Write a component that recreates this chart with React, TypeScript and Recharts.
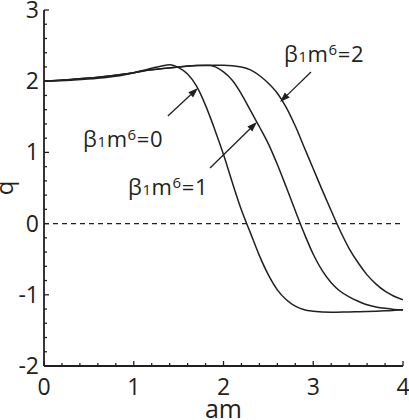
import React from "react";
import { LineChart, Line, XAxis, YAxis, ReferenceLine, ReferenceDot } from "recharts";

const INK = "#231f20";
const FONT = "'Open Sans', sans-serif";

const xTicks = [0, 0.2, 0.4, 0.6, 0.8, 1, 1.2, 1.4, 1.6, 1.8, 2, 2.2, 2.4, 2.6, 2.8, 3, 3.2, 3.4, 3.6, 3.8, 4];
const yTicks = [-2, -1.8, -1.6, -1.4, -1.2, -1, -0.8, -0.6, -0.4, -0.2, 0, 0.2, 0.4, 0.6, 0.8, 1, 1.2, 1.4, 1.6, 1.8, 2, 2.2, 2.4, 2.6, 2.8, 3];

// beta1 m^6 = 0
const am0 = [0, 0.3, 0.6, 0.9, 1.1, 1.3, 1.4, 1.5, 1.6, 1.7, 1.8, 1.9, 2.0, 2.1, 2.2, 2.3, 2.4, 2.5, 2.6, 2.7, 2.8, 2.9, 3.0, 3.2, 3.4, 3.6, 3.8, 4.0];
const q0 = [2.0, 2.015, 2.04, 2.09, 2.15, 2.21, 2.23, 2.19, 2.1, 1.93, 1.66, 1.33, 0.97, 0.57, 0.19, -0.13, -0.45, -0.72, -0.93, -1.07, -1.16, -1.21, -1.23, -1.245, -1.24, -1.235, -1.225, -1.21];

// beta1 m^6 = 1
const am1 = [0, 0.3, 0.6, 0.9, 1.2, 1.5, 1.7, 1.85, 2.0, 2.1, 2.2, 2.3, 2.4, 2.5, 2.6, 2.7, 2.8, 2.9, 3.0, 3.1, 3.2, 3.3, 3.4, 3.5, 3.6, 3.7, 3.8, 3.9, 4.0];
const q1 = [2.0, 2.025, 2.055, 2.1, 2.16, 2.2, 2.22, 2.22, 2.13, 2.01, 1.82, 1.59, 1.36, 1.12, 0.83, 0.51, 0.18, -0.14, -0.43, -0.66, -0.83, -0.95, -1.03, -1.09, -1.14, -1.17, -1.19, -1.205, -1.215];

// beta1 m^6 = 2
const am2 = [0, 0.3, 0.6, 0.9, 1.2, 1.5, 1.8, 2.0, 2.2, 2.3, 2.4, 2.5, 2.6, 2.7, 2.8, 2.9, 3.0, 3.1, 3.2, 3.3, 3.4, 3.5, 3.6, 3.7, 3.8, 3.9, 4.0];
const q2 = [2.0, 2.025, 2.055, 2.1, 2.16, 2.2, 2.225, 2.225, 2.2, 2.16, 2.08, 1.97, 1.83, 1.63, 1.37, 1.07, 0.77, 0.47, 0.18, -0.1, -0.35, -0.55, -0.72, -0.85, -0.95, -1.02, -1.07];

const zip = (xs: number[], ys: number[]) => xs.map((x, i) => ({ x, q: ys[i] }));

// annotation labels: value, anchor (x, q)
const labels = [
  { v: "0", x: 0.435, q: 1.074 },
  { v: "1", x: 0.936, q: 0.4 },
  { v: "2", x: 2.674, q: 2.27 },
];
// arrows: tail -> tip
const arrows = [
  [{ x: 1.38, y: 1.51 }, { x: 1.716, y: 1.904 }],
  [{ x: 1.85, y: 0.78 }, { x: 2.373, y: 1.427 }],
  [{ x: 2.975, y: 2.129 }, { x: 2.63, y: 1.707 }],
];

const isMajor = (v: number) => Math.abs(v - Math.round(v)) < 1e-6;

function BottomTick(props: any) {
  const { x, y, payload } = props;
  const major = isMajor(payload.value);
  return (
    <g>
      <line x1={x} x2={x} y1={y} y2={y - (major ? 5 : 3)} stroke={INK} strokeWidth={1.3} />
      {major && (
        <text x={x} y={y + 29} textAnchor="middle" fontSize={23} fontFamily={FONT} fill={INK}>
          {Math.round(payload.value)}
        </text>
      )}
    </g>
  );
}

function TopTick(props: any) {
  const { x, y, payload } = props;
  const major = isMajor(payload.value);
  return <line x1={x} x2={x} y1={y} y2={y + (major ? 5 : 3)} stroke={INK} strokeWidth={1.3} />;
}

function LeftTick(props: any) {
  const { x, y, payload } = props;
  const major = isMajor(payload.value);
  return (
    <g>
      <line x1={x} x2={x + (major ? 5 : 3)} y1={y} y2={y} stroke={INK} strokeWidth={1.3} />
      {major && (
        <text x={x - 5} y={y + 8} textAnchor="end" fontSize={23} fontFamily={FONT} fill={INK}>
          {Math.round(payload.value)}
        </text>
      )}
    </g>
  );
}

function RightTick(props: any) {
  const { x, y, payload } = props;
  const major = isMajor(payload.value);
  return <line x1={x} x2={x - (major ? 5 : 3)} y1={y} y2={y} stroke={INK} strokeWidth={1.3} />;
}

function Arrow(props: any) {
  const { x1, y1, x2, y2 } = props;
  const dx = x2 - x1;
  const dy = y2 - y1;
  const len = Math.sqrt(dx * dx + dy * dy);
  const ux = dx / len;
  const uy = dy / len;
  const head = 10;
  const half = 3.5;
  const bx = x2 - ux * head;
  const by = y2 - uy * head;
  const pts = `${x2},${y2} ${bx - uy * half},${by + ux * half} ${bx + uy * half},${by - ux * half}`;
  return (
    <g>
      <line x1={x1} y1={y1} x2={bx} y2={by} stroke={INK} strokeWidth={1.3} />
      <polygon points={pts} fill={INK} />
    </g>
  );
}

function BetaLabel(v: string) {
  return (props: any) => {
    const { cx, cy } = props;
    return (
      <text x={cx} y={cy} fontSize={22} fontFamily={FONT} fill={INK} letterSpacing={0.6}>
        <tspan>β</tspan>
        <tspan fontSize={15}>1</tspan>
        <tspan>m</tspan>
        <tspan fontSize={15} dy={-7}>6</tspan>
        <tspan dy={7}>={v}</tspan>
      </text>
    );
  };
}

const QLabel = (props: any) => {
  const { viewBox } = props;
  const px = viewBox.x + 12.5;
  const py = viewBox.y + viewBox.height / 2;
  return (
    <text x={px} y={py} transform={`rotate(-90 ${px} ${py})`} textAnchor="middle" fontSize={24} fontFamily={FONT} fill={INK}>
      q
    </text>
  );
};

const AmLabel = (props: any) => {
  const { viewBox } = props;
  return (
    <text x={viewBox.x + viewBox.width / 2} y={viewBox.y + 52} textAnchor="middle" fontSize={25} fontFamily={FONT} fill={INK}>
      am
    </text>
  );
};

export default function App() {
  const axisLine = { stroke: INK, strokeWidth: 1.8 };
  return (
    <div style={{ position: "absolute", left: 0, top: 0, width: 409, height: 420, background: "#fff" }}>
      <LineChart width={409} height={420} margin={{ top: 10, right: 6, bottom: 0, left: 0 }}>
        <XAxis
          xAxisId="b"
          dataKey="x"
          type="number"
          domain={[0, 4]}
          ticks={xTicks}
          interval={0}
          height={54}
          tickLine={false}
          tickSize={0}
          tickMargin={0}
          axisLine={axisLine}
          tick={<BottomTick />}
          label={AmLabel}
          allowDataOverflow
        />
        <XAxis
          xAxisId="t"
          orientation="top"
          type="number"
          domain={[0, 4]}
          ticks={xTicks}
          interval={0}
          height={0}
          tickLine={false}
          tickSize={0}
          tickMargin={0}
          axisLine={axisLine}
          tick={<TopTick />}
          allowDataOverflow
        />
        <YAxis
          yAxisId="l"
          type="number"
          domain={[-2, 3]}
          ticks={yTicks}
          interval={0}
          width={44}
          tickLine={false}
          tickSize={0}
          tickMargin={0}
          axisLine={axisLine}
          tick={<LeftTick />}
          label={QLabel}
          allowDataOverflow
        />
        <YAxis
          yAxisId="r"
          orientation="right"
          type="number"
          domain={[-2, 3]}
          ticks={yTicks}
          interval={0}
          width={0}
          tickLine={false}
          tickSize={0}
          tickMargin={0}
          axisLine={axisLine}
          tick={<RightTick />}
          allowDataOverflow
        />
        <ReferenceLine xAxisId="b" yAxisId="l" y={0} stroke={INK} strokeWidth={1.3} strokeDasharray="5 4" />
        <Line xAxisId="b" yAxisId="l" data={zip(am0, q0)} dataKey="q" type="monotone" stroke={INK} strokeWidth={1.5} dot={false} isAnimationActive={false} />
        <Line xAxisId="b" yAxisId="l" data={zip(am1, q1)} dataKey="q" type="monotone" stroke={INK} strokeWidth={1.5} dot={false} isAnimationActive={false} />
        <Line xAxisId="b" yAxisId="l" data={zip(am2, q2)} dataKey="q" type="monotone" stroke={INK} strokeWidth={1.5} dot={false} isAnimationActive={false} />
        {arrows.map((seg, i) => (
          <ReferenceLine key={"a" + i} xAxisId="b" yAxisId="l" segment={seg} shape={Arrow} />
        ))}
        {labels.map((l) => (
          <ReferenceDot key={"l" + l.v} xAxisId="b" yAxisId="l" x={l.x} y={l.q} r={0} shape={BetaLabel(l.v)} />
        ))}
      </LineChart>
    </div>
  );
}
